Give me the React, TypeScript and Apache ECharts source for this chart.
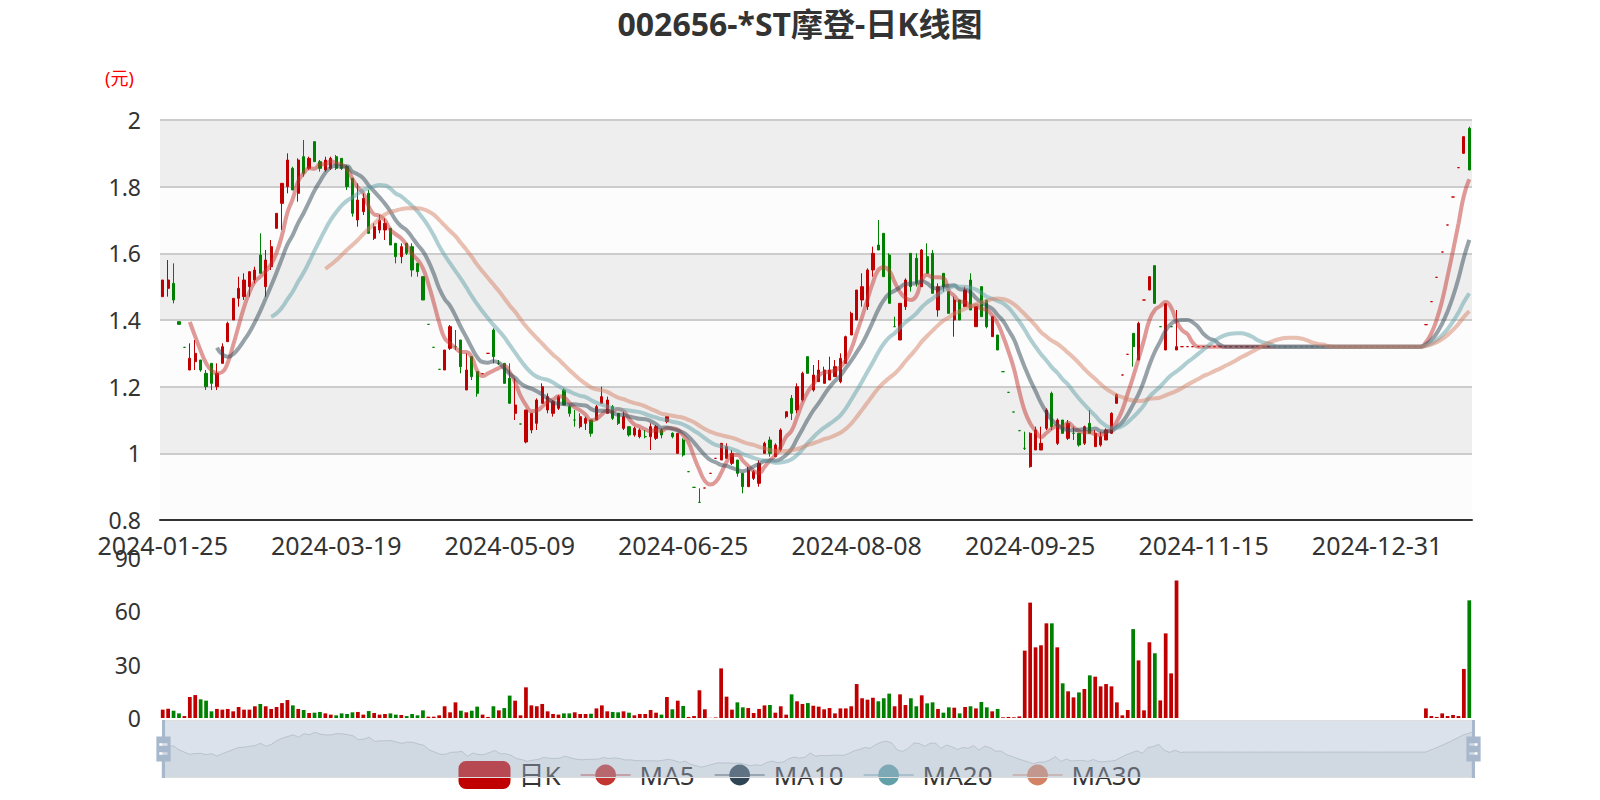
import React, { useEffect, useRef } from 'react';
import * as echarts from 'echarts';

const FONT = "'Noto Sans', 'Noto Sans CJK SC', sans-serif";

const monthDays = (ym: string, days: string) => days.split(' ').map((d) => `${ym}-${d}`);

const dates: string[] = [
  ...monthDays('2024-01', '25 26 29 30 31'),
  ...monthDays('2024-02', '01 02 05 06 07 08 19 20 21 22 23 26 27 28 29'),
  ...monthDays('2024-03', '01 04 05 06 07 08 11 12 13 14 15 18 19 20 21 22 25 26 27 28 29'),
  ...monthDays('2024-04', '01 02 03 08 09 10 11 12 15 16 17 18 19 22 23 24 25 26 29 30'),
  ...monthDays('2024-05', '06 07 08 09 10 13 14 15 16 17 20 21 22 23 24 27 28 29 30 31'),
  ...monthDays('2024-06', '03 04 05 06 07 11 12 13 14 17 18 19 20 21 24 25 26 27 28'),
  ...monthDays('2024-07', '01 02 03 04 05 08 09 10 11 12 15 16 17 18 19 22 23 24 25 26 29 30 31'),
  ...monthDays('2024-08', '01 02 05 06 07 08 09 12 13 14 15 16 19 20 21 22 23 26 27 28 29 30'),
  ...monthDays('2024-09', '02 03 04 05 06 09 10 11 12 13 18 19 20 23 24 25 26 27 30'),
  ...monthDays('2024-10', '08 09 10 11 14 15 16 17 18 21 22 23 24 25 28 29 30 31'),
  ...monthDays('2024-11', '01 04 05 06 07 08 11 12 13 14 15 18 19 20 21 22 25 26 27 28 29'),
  ...monthDays('2024-12', '02 03 04 05 06 09 10 11 12 13 16 17 18 19 20 23 24 25 26 27 30 31'),
  ...monthDays('2025-01', '02 03 06 07 08 09 10 13 14 15 16 17 20 21 22 23 24'),
];

const opens = [
  1.47, 1.495, 1.51, 1.395, 1.318, 1.25, 1.275, 1.28, 1.24, 1.27,
  1.2, 1.27, 1.335, 1.4, 1.465, 1.47, 1.5, 1.52, 1.595, 1.5,
  1.56, 1.675, 1.75, 1.8, 1.855, 1.78, 1.89, 1.855, 1.935, 1.875,
  1.85, 1.855, 1.89, 1.885, 1.86, 1.825, 1.7, 1.725, 1.78, 1.645,
  1.67, 1.67, 1.675, 1.63, 1.59, 1.63, 1.62, 1.57, 1.53, 1.387,
  1.318, 1.252, 1.25, 1.315, 1.32, 1.34, 1.19, 1.29, 1.245, 1.239,
  1.3, 1.37, 1.27, 1.27, 1.225, 1.12, 1.088, 1.034, 1.07, 1.09,
  1.15, 1.13, 1.12, 1.135, 1.19, 1.14, 1.1, 1.08, 1.09, 1.1,
  1.1, 1.15, 1.12, 1.14, 1.12, 1.075, 1.08, 1.055, 1.05, 1.05,
  1.05, 1.045, 1.07, 1.095, 1.06, 1.0, 1.04, 0.945, 0.898, 0.853,
  0.896, 0.94, 0.985, 0.98, 0.985, 0.97, 0.98, 0.94, 0.9, 0.925,
  0.91, 1.0, 1.04, 0.99, 1.01, 1.11, 1.165, 1.13, 1.16, 1.29,
  1.19, 1.215, 1.21, 1.22, 1.23, 1.215, 1.27, 1.355, 1.4, 1.46,
  1.44, 1.55, 1.625, 1.66, 1.595, 1.38, 1.34, 1.44, 1.6, 1.585,
  1.5, 1.59, 1.6, 1.43, 1.54, 1.485, 1.4, 1.46, 1.44, 1.52,
  1.38, 1.5, 1.46, 1.35, 1.355, 1.245, 1.183, 1.124, 1.068, 1.015,
  0.96, 1.01, 1.01, 1.075, 1.18, 1.03, 1.1, 1.045, 1.06, 1.06,
  1.03, 1.09, 1.02, 1.025, 1.04, 1.06, 1.15, 1.235, 1.297, 1.36,
  1.28, 1.46, 1.49, 1.563, 1.38, 1.31, 1.38, 1.31, 1.32, 1.32,
  1.32, 1.32, 1.32, 1.32, 1.32, 1.32, 1.32, 1.32, 1.32, 1.32,
  1.32, 1.32, 1.32, 1.32, 1.32, 1.32, 1.32, 1.32, 1.32, 1.32,
  1.32, 1.32, 1.32, 1.32, 1.32, 1.32, 1.32, 1.32, 1.32, 1.32,
  1.32, 1.32, 1.32, 1.32, 1.32, 1.32, 1.32, 1.32, 1.32, 1.32,
  1.32, 1.32, 1.32, 1.386, 1.455, 1.528, 1.604, 1.685, 1.769, 1.857,
  1.9, 1.975,
];

const closes = [
  1.52, 1.52, 1.46, 1.387, 1.318, 1.285, 1.3, 1.25, 1.2, 1.21,
  1.24, 1.32, 1.39, 1.465, 1.495, 1.52, 1.545, 1.55, 1.54, 1.58,
  1.62, 1.72, 1.81, 1.88, 1.79, 1.88, 1.84, 1.885, 1.875, 1.855,
  1.88, 1.885, 1.855, 1.855, 1.8, 1.72, 1.76, 1.765, 1.66, 1.68,
  1.7, 1.69, 1.625, 1.59, 1.62, 1.6, 1.55, 1.545, 1.46, 1.387,
  1.318, 1.252, 1.31, 1.38, 1.32, 1.26, 1.25, 1.23, 1.18, 1.239,
  1.3, 1.29, 1.27, 1.21, 1.15, 1.145, 1.088, 1.13, 1.12, 1.16,
  1.2, 1.17, 1.155, 1.17, 1.145, 1.12, 1.1, 1.11, 1.105, 1.06,
  1.14, 1.17, 1.16, 1.105, 1.09, 1.11, 1.055, 1.075, 1.07, 1.05,
  1.08, 1.08, 1.055, 1.11, 1.05, 1.06, 0.995, 0.945, 0.898, 0.853,
  0.896, 0.94, 0.985, 1.03, 1.02, 1.0, 0.94, 0.9, 0.95, 0.945,
  0.97, 1.03, 1.0, 1.025, 1.07, 1.125, 1.12, 1.2, 1.24, 1.24,
  1.235, 1.25, 1.25, 1.25, 1.26, 1.285, 1.35, 1.42, 1.49, 1.5,
  1.55, 1.6, 1.61, 1.53, 1.45, 1.38, 1.45, 1.52, 1.5, 1.51,
  1.61, 1.54, 1.48, 1.5, 1.5, 1.42, 1.46, 1.4, 1.49, 1.43,
  1.44, 1.41, 1.38, 1.41, 1.31, 1.245, 1.183, 1.124, 1.068, 1.015,
  1.06, 1.07, 1.03, 1.13, 1.08, 1.1, 1.06, 1.09, 1.06, 1.025,
  1.08, 1.06, 1.06, 1.05, 1.07, 1.12, 1.176, 1.235, 1.297, 1.32,
  1.39, 1.46, 1.53, 1.45, 1.38, 1.449, 1.38, 1.32, 1.32, 1.32,
  1.32, 1.32, 1.32, 1.32, 1.32, 1.32, 1.32, 1.32, 1.32, 1.32,
  1.32, 1.32, 1.32, 1.32, 1.32, 1.32, 1.32, 1.32, 1.32, 1.32,
  1.32, 1.32, 1.32, 1.32, 1.32, 1.32, 1.32, 1.32, 1.32, 1.32,
  1.32, 1.32, 1.32, 1.32, 1.32, 1.32, 1.32, 1.32, 1.32, 1.32,
  1.32, 1.32, 1.32, 1.386, 1.455, 1.528, 1.604, 1.685, 1.769, 1.857,
  1.95, 1.85,
];

const lows = [
  1.47, 1.47, 1.45, 1.387, 1.318, 1.25, 1.25, 1.245, 1.19, 1.19,
  1.19, 1.27, 1.335, 1.4, 1.44, 1.46, 1.47, 1.51, 1.54, 1.47,
  1.55, 1.675, 1.67, 1.78, 1.79, 1.755, 1.83, 1.85, 1.875, 1.845,
  1.845, 1.85, 1.85, 1.85, 1.79, 1.71, 1.68, 1.715, 1.66, 1.64,
  1.66, 1.64, 1.625, 1.57, 1.57, 1.595, 1.53, 1.53, 1.46, 1.387,
  1.318, 1.252, 1.25, 1.31, 1.31, 1.24, 1.19, 1.22, 1.17, 1.239,
  1.3, 1.27, 1.265, 1.21, 1.15, 1.1, 1.088, 1.03, 1.06, 1.07,
  1.15, 1.12, 1.11, 1.13, 1.145, 1.11, 1.08, 1.075, 1.07, 1.05,
  1.1, 1.15, 1.12, 1.1, 1.085, 1.07, 1.05, 1.05, 1.045, 1.045,
  1.01, 1.04, 1.045, 1.09, 1.045, 1.0, 0.99, 0.945, 0.898, 0.853,
  0.896, 0.94, 0.985, 0.98, 0.985, 0.965, 0.93, 0.88, 0.9, 0.92,
  0.9, 1.0, 0.99, 0.99, 1.005, 1.105, 1.1, 1.12, 1.155, 1.24,
  1.185, 1.215, 1.21, 1.22, 1.23, 1.21, 1.27, 1.355, 1.4, 1.44,
  1.43, 1.53, 1.61, 1.53, 1.45, 1.38, 1.34, 1.43, 1.485, 1.5,
  1.5, 1.54, 1.48, 1.41, 1.485, 1.42, 1.35, 1.4, 1.44, 1.43,
  1.38, 1.41, 1.375, 1.35, 1.31, 1.245, 1.183, 1.124, 1.068, 1.01,
  0.957, 1.01, 1.01, 1.07, 1.07, 1.025, 1.06, 1.04, 1.04, 1.02,
  1.025, 1.06, 1.02, 1.02, 1.04, 1.058, 1.15, 1.235, 1.297, 1.26,
  1.28, 1.46, 1.49, 1.45, 1.38, 1.31, 1.38, 1.31, 1.32, 1.32,
  1.32, 1.32, 1.32, 1.32, 1.32, 1.32, 1.32, 1.32, 1.32, 1.32,
  1.32, 1.32, 1.32, 1.32, 1.32, 1.32, 1.32, 1.32, 1.32, 1.32,
  1.32, 1.32, 1.32, 1.32, 1.32, 1.32, 1.32, 1.32, 1.32, 1.32,
  1.32, 1.32, 1.32, 1.32, 1.32, 1.32, 1.32, 1.32, 1.32, 1.32,
  1.32, 1.32, 1.32, 1.386, 1.455, 1.528, 1.604, 1.685, 1.769, 1.857,
  1.9, 1.85,
];

const highs = [
  1.52, 1.58, 1.57, 1.395, 1.318, 1.33, 1.34, 1.28, 1.25, 1.27,
  1.27, 1.33, 1.395, 1.465, 1.53, 1.54, 1.545, 1.56, 1.66, 1.61,
  1.64, 1.72, 1.81, 1.9, 1.86, 1.885, 1.94, 1.89, 1.935, 1.88,
  1.89, 1.89, 1.895, 1.885, 1.865, 1.825, 1.81, 1.78, 1.79, 1.69,
  1.715, 1.705, 1.675, 1.63, 1.63, 1.63, 1.63, 1.57, 1.53, 1.387,
  1.318, 1.252, 1.31, 1.385, 1.37, 1.34, 1.3, 1.29, 1.245, 1.239,
  1.3, 1.375, 1.28, 1.27, 1.27, 1.225, 1.088, 1.13, 1.12, 1.165,
  1.21, 1.18, 1.16, 1.175, 1.195, 1.145, 1.13, 1.12, 1.11, 1.1,
  1.145, 1.2, 1.17, 1.145, 1.12, 1.125, 1.08, 1.08, 1.075, 1.07,
  1.09, 1.085, 1.075, 1.11, 1.063, 1.06, 1.045, 0.945, 0.898, 0.895,
  0.896, 0.94, 0.985, 1.03, 1.03, 1.01, 0.98, 0.94, 0.96, 0.95,
  0.98, 1.035, 1.05, 1.03, 1.075, 1.125, 1.175, 1.21, 1.245, 1.29,
  1.265, 1.28, 1.26, 1.29, 1.28, 1.3, 1.353, 1.425, 1.49, 1.54,
  1.555, 1.62, 1.7, 1.66, 1.6, 1.41, 1.45, 1.525, 1.6, 1.6,
  1.613, 1.63, 1.61, 1.51, 1.54, 1.485, 1.47, 1.46, 1.5, 1.54,
  1.44, 1.5, 1.46, 1.41, 1.355, 1.245, 1.183, 1.124, 1.068, 1.065,
  1.063, 1.08, 1.08, 1.135, 1.185, 1.105, 1.1, 1.1, 1.08, 1.06,
  1.083, 1.13, 1.07, 1.065, 1.075, 1.123, 1.18, 1.235, 1.297, 1.36,
  1.395, 1.46, 1.532, 1.563, 1.38, 1.449, 1.38, 1.43, 1.32, 1.32,
  1.32, 1.32, 1.32, 1.32, 1.32, 1.32, 1.32, 1.32, 1.32, 1.32,
  1.32, 1.32, 1.32, 1.32, 1.32, 1.32, 1.32, 1.32, 1.32, 1.32,
  1.32, 1.32, 1.32, 1.32, 1.32, 1.32, 1.32, 1.32, 1.32, 1.32,
  1.32, 1.32, 1.32, 1.32, 1.32, 1.32, 1.32, 1.32, 1.32, 1.32,
  1.32, 1.32, 1.32, 1.386, 1.455, 1.528, 1.604, 1.685, 1.769, 1.857,
  1.95, 1.98,
];

const volumes = [
  4.7, 5.2, 4.1, 2.6, 1.1, 11.8, 12.9, 10.5, 9.75, 3.75,
  5.1, 4.7, 5.1, 3.75, 6.2, 4.7, 4.7, 6.6, 7.9, 6.6,
  5.1, 6.2, 8.4, 10.1, 7.1, 5.1, 4.5, 2.8, 3.0, 3.4,
  2.6, 1.9, 1.5, 2.6, 2.25, 3.2, 3.4, 1.9, 3.9, 2.8,
  1.9, 2.25, 2.6, 1.9, 1.7, 1.1, 2.25, 1.5, 4.3, 0.75,
  0.75, 1.5, 6.6, 3.2, 8.8, 4.1, 3.2, 4.1, 6.4, 1.9,
  0.6, 6.6, 4.3, 5.6, 12.6, 9.75, 1.5, 17.25, 7.1, 6.6,
  7.9, 3.75, 2.25, 1.9, 2.6, 2.6, 3.2, 2.25, 2.25, 2.4,
  5.4, 7.1, 3.75, 3.4, 3.2, 3.75, 3.0, 1.5, 2.25, 2.25,
  4.5, 3.0, 1.9, 11.8, 4.9, 9.75, 6.75, 0.6, 1.1, 15.6,
  4.9, 0.1, 0.3, 27.9, 12, 4.7, 8.8, 6, 5.6, 2.8,
  5.1, 7.1, 7.3, 3.0, 6.6, 1.9, 13.3, 9.4, 7.9, 8.4,
  6.9, 6.4, 4.9, 5.6, 2.6, 5.4, 5.4, 6.6, 19.1, 11.1,
  10.3, 11.4, 9.4, 11.1, 13.7, 6.6, 13.3, 7.3, 11.1, 6.6,
  12.75, 8.25, 8.8, 5.1, 3.0, 6.0, 5.8, 2.6, 6.2, 6.6,
  5.4, 9.0, 6.0, 3.75, 5.1, 0.4, 0.6, 0.4, 0.9, 37.9,
  64.9, 39.75, 40.9, 53.25, 53.25, 39.75, 19.5, 15, 11.6, 14.4,
  16.3, 24, 23.25, 17.8, 19.1, 17.8, 8.8, 1.5, 4.5, 50,
  32.4, 4.3, 42.6, 36.4, 9.9, 47.6, 25.1, 77.4, 0, 0,
  0, 0, 0, 0, 0, 0, 0, 0, 0, 0,
  0, 0, 0, 0, 0, 0, 0, 0, 0, 0,
  0, 0, 0, 0, 0, 0, 0, 0, 0, 0,
  0, 0, 0, 0, 0, 0, 0, 0, 0, 0,
  0, 0, 0, 5.4, 1.1, 0.6, 2.6, 1.1, 1.7, 1.1,
  27.6, 66.2,
];

const priceTicks = { min: 0.8, max: 2.0, interval: 0.2 };
const volumeTicks = { min: 0, max: 90, interval: 30 };
const maDays = [5, 10, 20, 30];
const maColors = ['#c23531', '#2f4554', '#61a0a8', '#d48265'];
const UP = '#c00000';
const DOWN = '#008000';
const HANDLE_ICON =
  'path://M8.2,13.6V3.9H6.3v9.7H3.1v14.9h3.3v9.7h1.8v-9.7h3.3V13.6H8.2z M9.7,24.4H4.8v-1.4h4.9V24.4z M9.7,19.1H4.8v-1.4h4.9V19.1z';

function movingAverage(days: number): (number | string)[] {
  const out: (number | string)[] = [];
  for (let i = 0; i < closes.length; i++) {
    if (i < days) { out.push('-'); continue; }
    let s = 0;
    for (let j = 0; j < days; j++) s += closes[i - j];
    out.push(+(s / days).toFixed(4));
  }
  return out;
}

export default function App() {
  const ref = useRef<HTMLDivElement>(null);
  useEffect(() => {
    document.body.style.margin = '0';
    if (!ref.current) return;
    const chart = echarts.init(ref.current, null, { renderer: 'svg' });
    const candleData = dates.map((_, i) => [opens[i], closes[i], lows[i], highs[i]]);
    const volData = dates.map((_, i) => ({
      value: volumes[i],
      itemStyle: { color: opens[i] > closes[i] ? DOWN : UP },
    }));
    const axisCommon = {
      axisLine: { lineStyle: { color: '#333', width: 2 } },
      axisTick: { length: 9, lineStyle: { color: '#333', width: 2 } },
    };
    const shadow = {
      lineStyle: { color: '#2f4554', width: 0.8, opacity: 0.3 },
      areaStyle: { color: 'rgba(47,69,84,0.3)', opacity: 0.3 },
    };
    chart.setOption({
      animation: false,
      textStyle: { fontFamily: FONT },
      title: {
        text: '002656-*ST摩登-日K线图',
        left: 'center',
        top: 2,
        textStyle: { fontSize: 32, fontWeight: 'bold', color: '#333', fontFamily: FONT },
      },
      legend: {
        data: ['日K', 'MA5', 'MA10', 'MA20', 'MA30'],
        left: 'center',
        top: 761,
        padding: 0,
        itemWidth: 50,
        itemHeight: 26,
        itemGap: 19,
        textStyle: { fontSize: 26, color: '#333', fontFamily: FONT, padding: [0, 0, 0, 4] },
      },
      graphic: [
        {
          type: 'text',
          left: 105,
          top: 69,
          style: { text: '(元)', fill: 'red', font: `18px ${FONT}` },
        },
      ],
      grid: [
        { left: '10%', right: '8%', top: 120, height: 400 },
        { left: '10%', right: '8%', top: 558, height: 160 },
      ],
      xAxis: [
        {
          type: 'category',
          data: dates,
          boundaryGap: true,
          ...axisCommon,
          axisLabel: { interval: 31, fontSize: 25, color: '#333', margin: 12 },
          splitLine: { show: false },
        },
        {
          type: 'category',
          gridIndex: 1,
          data: dates,
          boundaryGap: true,
          axisLine: { show: false },
          axisTick: { show: false },
          axisLabel: { show: false },
          splitLine: { show: false },
        },
      ],
      yAxis: [
        {
          type: 'value',
          ...priceTicks,
          ...axisCommon,
          axisLabel: { fontSize: 23, color: '#333', margin: 19 },
          splitLine: { show: true, lineStyle: { color: '#ccc', width: 2 } },
          splitArea: { show: true, areaStyle: { color: ['#fcfcfc', '#eeeeee'] } },
        },
        {
          type: 'value',
          gridIndex: 1,
          ...volumeTicks,
          axisLine: { show: false },
          axisTick: { show: false },
          axisLabel: { fontSize: 23, color: '#333', margin: 19 },
          splitLine: { show: false },
        },
      ],
      dataZoom: [
        { type: 'inside', xAxisIndex: [0, 1], start: 0, end: 100 },
        {
          type: 'slider',
          xAxisIndex: [0, 1],
          start: 0,
          end: 100,
          top: 720,
          height: 58,
          left: '10%',
          right: '8%',
          showDetail: false,
          brushSelect: false,
          moveHandleSize: 0,
          backgroundColor: 'rgba(47,69,84,0)',
          borderColor: '#ddd',
          fillerColor: 'rgba(167,183,204,0.4)',
          handleIcon: HANDLE_ICON,
          handleSize: '100%',
          handleStyle: { color: '#a7b7cc', borderWidth: 0, borderColor: 'transparent', shadowBlur: 0, shadowColor: 'transparent' },
          dataBackground: shadow,
          selectedDataBackground: shadow,
        },
      ],
      series: [
        {
          name: '日K',
          type: 'candlestick',
          data: candleData,
          itemStyle: { color: UP, color0: DOWN, borderColor: UP, borderColor0: DOWN },
        },
        ...maDays.map((d, k) => ({
          name: 'MA' + d,
          type: 'line',
          data: movingAverage(d),
          smooth: true,
          symbol: 'circle',
          showSymbol: false,
          color: maColors[k],
          lineStyle: { width: 4, opacity: 0.5, color: maColors[k] },
        })),
        {
          name: '成交量',
          type: 'bar',
          xAxisIndex: 1,
          yAxisIndex: 1,
          data: volData,
        },
      ],
    });
    return () => chart.dispose();
  }, []);
  return <div ref={ref} style={{ width: 1600, height: 800 }} />;
}
